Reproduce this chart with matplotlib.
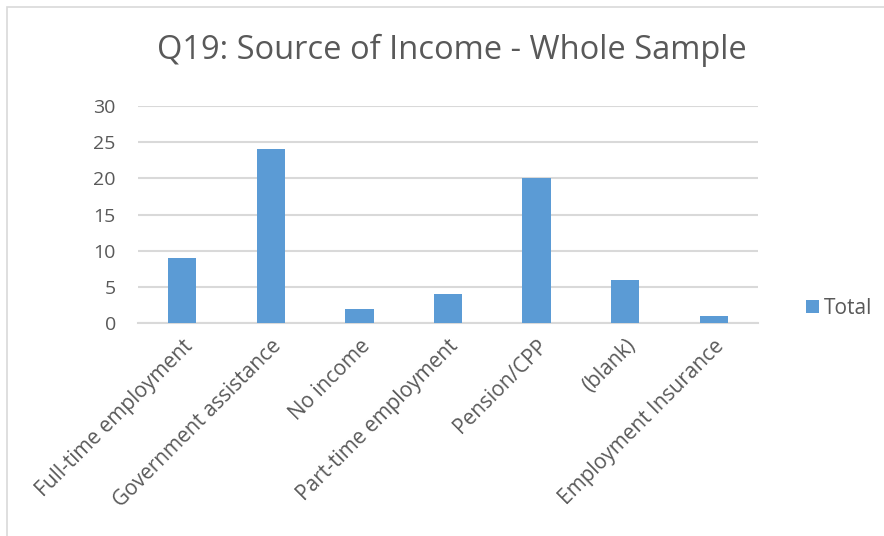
import matplotlib.pyplot as plt
from matplotlib.patches import Rectangle

categories = ['Full-time employment', 'Government assistance', 'No income',
              'Part-time employment', 'Pension/CPP', '(blank)', 'Employment Insurance']
totals = [9, 24, 2, 4, 20, 6, 1]
yticks = [0, 5, 10, 15, 20, 25, 30]

BLUE = '#5B9BD5'
GRID = '#D9D9D9'
TEXT = '#595959'

plt.rcParams['font.family'] = ['Open Sans', 'DejaVu Sans']

fig = plt.figure(figsize=(8.84, 5.36), dpi=100)
ax = fig.add_axes([138 / 884, 1 - 323 / 536, 620 / 884, 217 / 536])

# chart border like the Excel frame
fig.patches.append(Rectangle((7 / 884, -0.1), 1.2, 1.1 - 7 / 536, transform=fig.transFigure,
                             fill=False, edgecolor=GRID, linewidth=1.2))

x = range(len(categories))
ax.bar(x, totals, width=0.32, color=BLUE, label='Total', zorder=3)
ax.set_xlim(-0.5, len(categories) - 0.5)
ax.set_ylim(0, 30)
ax.set_yticks(yticks)
ax.yaxis.grid(True, color=GRID, linewidth=1.5, zorder=0)
for s in ['top', 'right', 'left']:
    ax.spines[s].set_visible(False)
ax.spines['bottom'].set_color(GRID)
ax.spines['bottom'].set_linewidth(1.5)
ax.tick_params(axis='both', length=0, colors=TEXT)
ax.tick_params(axis='y', pad=16, labelsize=14)
ax.set_xticks(list(x))
ax.set_xticklabels(categories, rotation=45, ha='right', rotation_mode='anchor')
ax.tick_params(axis='x', pad=9, labelsize=15)

fig.text(452 / 884, 1 - 50 / 536, 'Q19: Source of Income - Whole Sample',
         ha='center', va='center', fontsize=23.5, color=TEXT)

fig.legend(loc='center left', bbox_to_anchor=(796 / 884, 1 - 308 / 536), frameon=False,
           fontsize=15, labelcolor=TEXT, handlelength=0.6, handleheight=0.6,
           handletextpad=0.25, borderpad=0)

fig.savefig('out.png', dpi=100)
